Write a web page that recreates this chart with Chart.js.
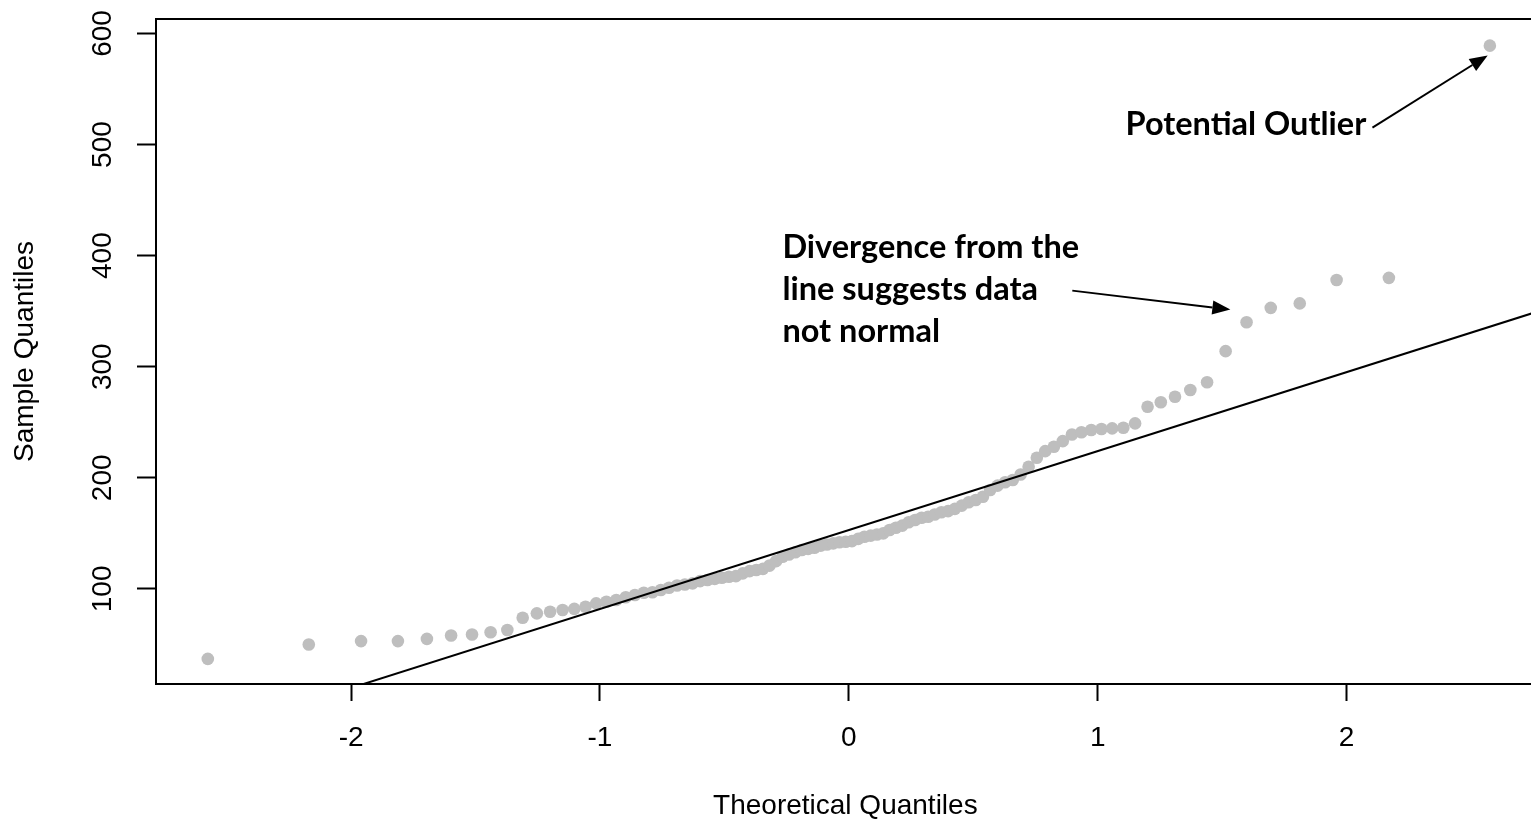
<!DOCTYPE html>
<html>
<head>
<meta charset="utf-8">
<script src="https://cdn.jsdelivr.net/npm/chart.js@4/dist/chart.umd.min.js"></script>
<style>
  html, body { margin: 0; padding: 0; background: #fff; overflow: hidden; }
  #wrap { width: 1531px; height: 820px; overflow: hidden; }
</style>
</head>
<body>
<div id="wrap"><canvas id="qq" width="1541" height="820"></canvas></div>
<script>
// theoretical normal quantiles, n = 100
const theoreticalQ = [
  -2.5758, -2.1701, -1.9600, -1.8119, -1.6954, -1.5982, -1.5141, -1.4395, -1.3722, -1.3106,
  -1.2536, -1.2004, -1.1503, -1.1031, -1.0581, -1.0152, -0.9741, -0.9346, -0.8965, -0.8596,
  -0.8239, -0.7892, -0.7554, -0.7225, -0.6903, -0.6588, -0.6280, -0.5978, -0.5681, -0.5388,
  -0.5101, -0.4817, -0.4538, -0.4261, -0.3989, -0.3719, -0.3451, -0.3186, -0.2924, -0.2663,
  -0.2404, -0.2147, -0.1891, -0.1637, -0.1383, -0.1130, -0.0878, -0.0627, -0.0376, -0.0125,
   0.0125,  0.0376,  0.0627,  0.0878,  0.1130,  0.1383,  0.1637,  0.1891,  0.2147,  0.2404,
   0.2663,  0.2924,  0.3186,  0.3451,  0.3719,  0.3989,  0.4261,  0.4538,  0.4817,  0.5101,
   0.5388,  0.5681,  0.5978,  0.6280,  0.6588,  0.6903,  0.7225,  0.7554,  0.7892,  0.8239,
   0.8596,  0.8965,  0.9346,  0.9741,  1.0152,  1.0581,  1.1031,  1.1503,  1.2004,  1.2536,
   1.3106,  1.3722,  1.4395,  1.5141,  1.5982,  1.6954,  1.8119,  1.9600,  2.1701,  2.5758
];
// sorted sample values
const sampleQ = [
   37,  50,  53,  53,  55,  58,  59,  61,  63,  74,
   78,  79.5, 81, 82,  84,  87,  88.5, 90, 92.5, 94.5,
   96.5, 97, 99, 101, 103, 104, 105, 107, 108, 109,
  110, 111, 111.5, 114, 116, 117, 118, 121, 125, 129,
  131, 133, 135, 136, 137, 139, 140, 141, 142, 142.5,
  143, 145, 147, 148, 149, 150, 153, 155, 157, 160,
  162, 164, 165, 167, 169, 170, 172, 175, 178, 180,
  183, 189, 193, 196, 198, 203, 210, 218, 224, 228,
  233, 239, 241, 243, 244, 244.5, 245, 249, 264, 268,
  273, 279, 286, 314, 340, 353, 357, 378, 380, 589
];
// reference line (qqline), end values at the plot edges
const refLineX = [-2.8, 2.8];
const refLineY = [-46, 352];

const xTicks = [-2, -1, 0, 1, 2];
const yTicks = [100, 200, 300, 400, 500, 600];
const xRange = [-2.784, 2.756];
const yRange = [14.4, 613];

const AXIS_FONT = '"Liberation Sans", Arial, sans-serif';
const NOTE_FONT = 'bold 32.5px Lato, "Open Sans", sans-serif';

// annotations, anchored in data units
const notes = [
  { lines: ['Potential Outlier'], x: 1.112, y: 518, from: [2.104, 515.3], to: [2.567, 580.2] },
  { lines: ['Divergence from the', 'line suggests data', 'not normal'], x: -0.267, y: 407, from: [0.898, 368.5], to: [1.533, 351.4] }
];

function drawArrow(ctx, x1, y1, x2, y2) {
  const ang = Math.atan2(y2 - y1, x2 - x1);
  const len = 18, half = 7;
  const bx = x2 - len * Math.cos(ang), by = y2 - len * Math.sin(ang);
  ctx.beginPath();
  ctx.moveTo(x1, y1);
  ctx.lineTo(bx, by);
  ctx.stroke();
  ctx.beginPath();
  ctx.moveTo(x2, y2);
  ctx.lineTo(bx + half * Math.sin(ang), by - half * Math.cos(ang));
  ctx.lineTo(bx - half * Math.sin(ang), by + half * Math.cos(ang));
  ctx.closePath();
  ctx.fill();
}

const qqDecor = {
  id: 'qqDecor',
  afterDraw(chart) {
    const { ctx, chartArea: a, scales: { x, y } } = chart;
    ctx.save();
    ctx.strokeStyle = '#000';
    ctx.fillStyle = '#000';
    ctx.lineWidth = 2;
    ctx.strokeRect(a.left, a.top, a.right - a.left, a.bottom - a.top);

    // y tick labels, rotated like base R
    ctx.font = '28px ' + AXIS_FONT;
    ctx.textAlign = 'center';
    ctx.textBaseline = 'middle';
    yTicks.forEach(v => {
      ctx.save();
      ctx.translate(a.left - 53, y.getPixelForValue(v));
      ctx.rotate(-Math.PI / 2);
      ctx.fillText(String(v), 0, 0);
      ctx.restore();
    });

    // notes
    ctx.font = NOTE_FONT;
    ctx.textAlign = 'left';
    notes.forEach(n => {
      const tx = x.getPixelForValue(n.x), ty = y.getPixelForValue(n.y);
      n.lines.forEach((t, i) => ctx.fillText(t, tx, ty + i * 42));
      ctx.lineWidth = 2;
      drawArrow(ctx, x.getPixelForValue(n.from[0]), y.getPixelForValue(n.from[1]),
                     x.getPixelForValue(n.to[0]), y.getPixelForValue(n.to[1]));
    });
    ctx.restore();
  }
};

const points = theoreticalQ.map((q, i) => ({ x: q, y: sampleQ[i] }));
const refLine = refLineX.map((q, i) => ({ x: q, y: refLineY[i] }));

new Chart(document.getElementById('qq'), {
  type: 'scatter',
  data: {
    datasets: [
      {
        type: 'line', data: refLine, order: 0,
        borderColor: '#000', borderWidth: 2, pointRadius: 0, fill: false
      },
      {
        data: points, order: 1,
        backgroundColor: '#bebebe', borderWidth: 0, pointRadius: 6.3, pointHoverRadius: 6.3
      }
    ]
  },
  options: {
    responsive: false,
    animation: false,
    devicePixelRatio: 1,
    layout: { padding: { top: 19, right: 0, bottom: 0, left: 0 } },
    plugins: { legend: { display: false }, tooltip: { enabled: false } },
    scales: {
      x: {
        type: 'linear', min: xRange[0], max: xRange[1],
        afterBuildTicks: s => { s.ticks = xTicks.map(v => ({ value: v })); },
        afterFit: s => { s.height = 136; s.paddingLeft = 0; s.paddingRight = 0; },
        border: { display: false },
        grid: { drawOnChartArea: false, drawTicks: true, tickLength: 17, tickColor: '#000', tickWidth: 2 },
        ticks: { color: '#000', font: { family: AXIS_FONT, size: 28 }, padding: 20, maxRotation: 0, autoSkip: false },
        title: { display: true, text: 'Theoretical Quantiles', color: '#000',
                 font: { family: AXIS_FONT, size: 28, lineHeight: 1.0 }, padding: { top: 0, bottom: 0 } }
      },
      y: {
        type: 'linear', min: yRange[0], max: yRange[1],
        afterBuildTicks: s => { s.ticks = yTicks.map(v => ({ value: v })); },
        afterFit: s => { s.width = 156; s.paddingTop = 0; s.paddingBottom = 0; },
        border: { display: false },
        grid: { drawOnChartArea: false, drawTicks: true, tickLength: 19, tickColor: '#000', tickWidth: 2 },
        ticks: { display: false },
        title: { display: true, text: 'Sample Quantiles', color: '#000',
                 font: { family: AXIS_FONT, size: 28, lineHeight: 1.2 }, padding: { top: 8, bottom: 0 } }
      }
    }
  },
  plugins: [qqDecor]
});
</script>
</body>
</html>
